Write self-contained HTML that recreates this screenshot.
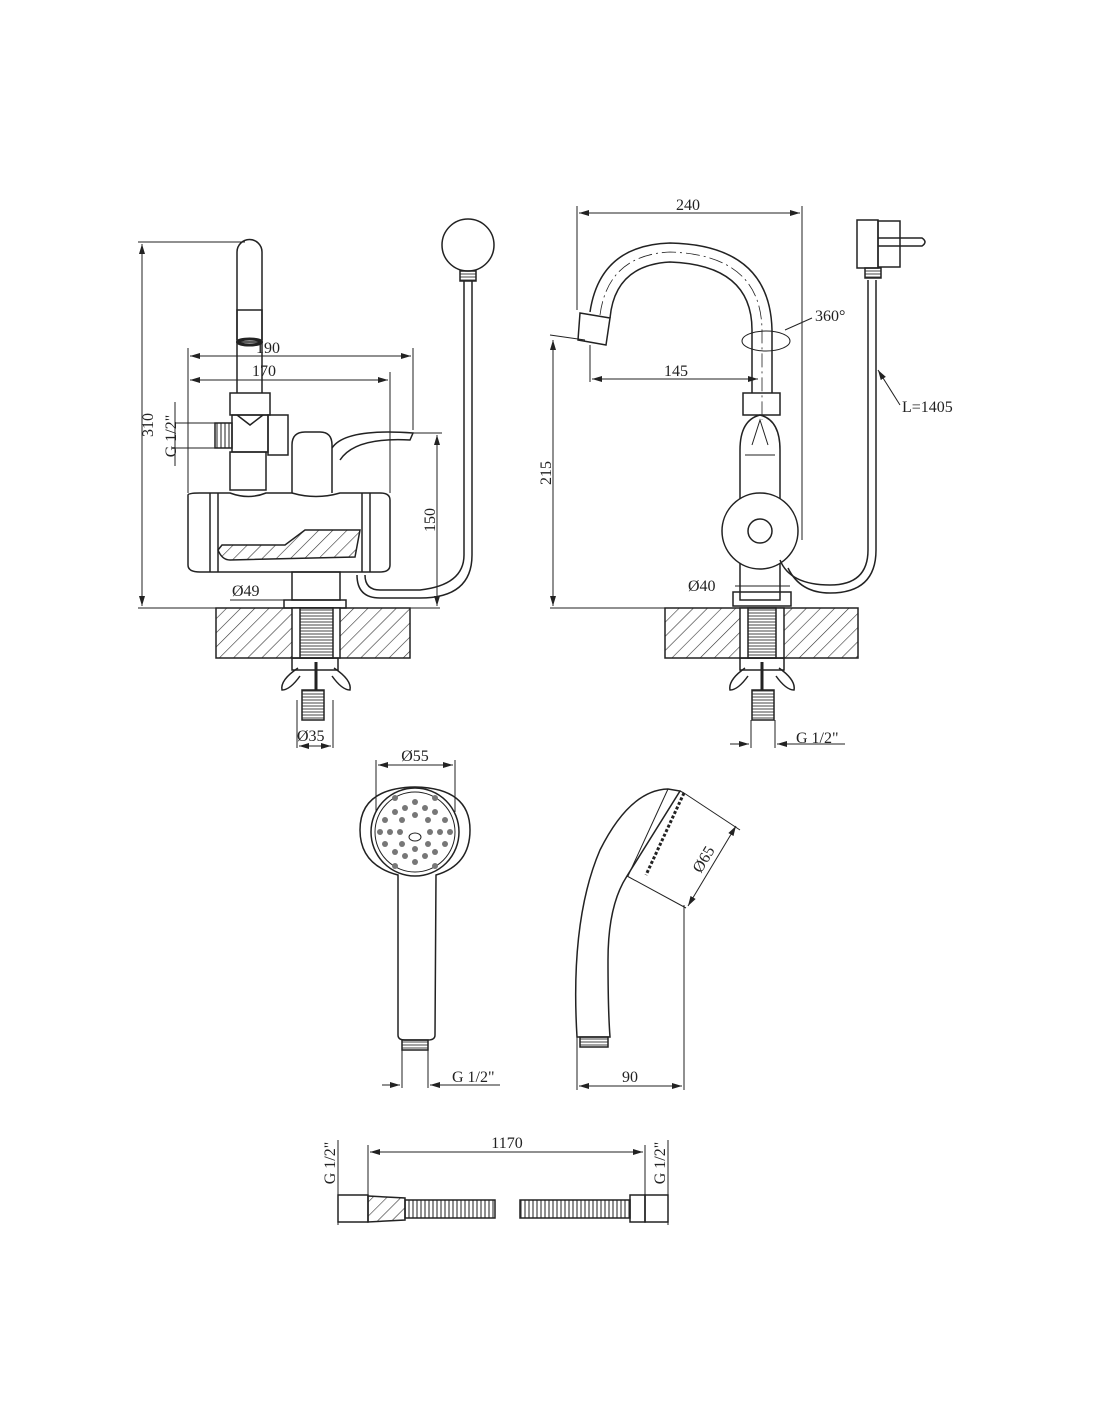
<!DOCTYPE html>
<html><head><meta charset="utf-8"><style>
html,body{margin:0;padding:0;background:#fff}
svg{display:block}
text{font-family:"Liberation Serif",serif;font-size:16px;fill:#222}
</style></head><body>
<svg width="1100" height="1422" viewBox="0 0 1100 1422" xmlns="http://www.w3.org/2000/svg">
<defs>
<pattern id="h" width="10" height="10" patternUnits="userSpaceOnUse" patternTransform="rotate(45)"><line x1="0" y1="0" x2="0" y2="10" stroke="#333" stroke-width="1.2"/></pattern>
<pattern id="t" width="4" height="3" patternUnits="userSpaceOnUse"><line x1="0" y1="1" x2="4" y2="1" stroke="#444" stroke-width="1"/></pattern>
<pattern id="tv" width="4" height="4" patternUnits="userSpaceOnUse"><line x1="1" y1="0" x2="1" y2="4" stroke="#444" stroke-width="1.2"/></pattern>
<marker id="a" markerWidth="10" markerHeight="6" refX="10" refY="3" orient="auto-start-reverse"><path d="M0,0 L10,3 L0,6 z" fill="#222"/></marker>
</defs>
<g fill="none" stroke="#222" stroke-width="1.5">
<!-- LEFT VIEW -->
<line x1="138" y1="242" x2="245" y2="242" stroke-width="1"/>
<line x1="142" y1="244" x2="142" y2="606" marker-start="url(#a)" marker-end="url(#a)" stroke-width="1"/>
<line x1="138" y1="608" x2="440" y2="608" stroke-width="1"/>
<path d="M237,340 V252 A12.5,12.5 0 0 1 262,252 V340"/>
<rect x="237" y="310" width="25" height="32"/>
<ellipse cx="249.5" cy="342" rx="12" ry="3" stroke-width="3"/>
<line x1="237" y1="342" x2="237" y2="393"/><line x1="262" y1="342" x2="262" y2="393"/>
<rect x="230" y="393" width="40" height="22"/>
<path d="M237,415 L250,425 L263,415"/>
<rect x="232" y="415" width="36" height="37"/>
<rect x="215" y="423" width="17" height="25" fill="url(#tv)"/>
<rect x="268" y="415" width="20" height="40"/>
<rect x="230" y="452" width="36" height="38"/>
<path d="M188,495 Q188,493 200,493 L230,493 Q249,500 266,493 L292,493 Q316,500 340,493 L380,493 Q390,493 390,500 V565 Q390,572 380,572 L200,572 Q188,572 188,565 Z"/>
<line x1="210" y1="493" x2="210" y2="572"/><line x1="218" y1="493" x2="218" y2="572"/>
<line x1="362" y1="493" x2="362" y2="572"/><line x1="370" y1="493" x2="370" y2="572"/>
<path d="M218,550 Q222,560 230,560 L355,557 L360,530 L305,530 L285,545 L222,545 Z" fill="url(#h)"/>
<path d="M292,493 V445 Q292,432 305,432 L320,432 Q332,432 332,445 V493"/>
<path d="M332,448 Q345,428 413,433 L410,440 Q355,437 340,460"/>
<rect x="292" y="572" width="48" height="28"/>
<rect x="284" y="600" width="62" height="8"/>
<line x1="188" y1="348" x2="188" y2="493" stroke-width="1"/>
<line x1="413" y1="348" x2="413" y2="430" stroke-width="1"/>
<line x1="390" y1="372" x2="390" y2="493" stroke-width="1"/>
<line x1="190" y1="356" x2="411" y2="356" marker-start="url(#a)" marker-end="url(#a)" stroke-width="1"/>
<line x1="190" y1="380" x2="388" y2="380" marker-start="url(#a)" marker-end="url(#a)" stroke-width="1"/>
<line x1="413" y1="433" x2="442" y2="433" stroke-width="1"/>
<line x1="437" y1="435" x2="437" y2="606" marker-start="url(#a)" marker-end="url(#a)" stroke-width="1"/>
<line x1="175" y1="402" x2="175" y2="466" stroke-width="1"/>
<line x1="175" y1="423" x2="215" y2="423" stroke-width="1"/>
<line x1="175" y1="448" x2="215" y2="448" stroke-width="1"/>
<circle cx="468" cy="245" r="26"/>
<rect x="460" y="271" width="16" height="10" fill="url(#t)"/>
<path d="M464,281 V555 Q464,585 420,590 L380,590 Q365,590 365,575"/>
<path d="M472,281 V555 Q472,598 420,598 L380,598 Q357,598 357,575"/>
<rect x="216" y="608" width="194" height="50" fill="url(#h)"/>
<rect x="292" y="608" width="48" height="50" fill="#fff"/>
<rect x="300" y="608" width="33" height="50" fill="url(#t)"/>
<rect x="292" y="658" width="46" height="12"/>
<path d="M298,668 Q280,680 282,690 Q290,690 300,676 M334,668 Q352,680 350,690 Q342,690 332,676"/>
<line x1="316" y1="662" x2="316" y2="690" stroke-width="3"/>
<rect x="302" y="690" width="22" height="30" fill="url(#t)"/>
<line x1="297" y1="700" x2="297" y2="748" stroke-width="1"/>
<line x1="333" y1="700" x2="333" y2="748" stroke-width="1"/>
<line x1="299" y1="746" x2="331" y2="746" marker-start="url(#a)" marker-end="url(#a)" stroke-width="1"/>
<line x1="230" y1="600" x2="340" y2="600" stroke-width="1"/>

<!-- RIGHT VIEW -->
<line x1="577" y1="206" x2="577" y2="310" stroke-width="1"/>
<line x1="802" y1="206" x2="802" y2="540" stroke-width="1"/>
<line x1="579" y1="213" x2="800" y2="213" marker-start="url(#a)" marker-end="url(#a)" stroke-width="1"/>
<path d="M590,312 Q600,245 670,243 Q770,245 772,330 V393"/>
<path d="M610,318 Q615,265 670,262 Q752,265 752,330 V393"/>
<path d="M600,315 Q608,255 670,252 Q761,255 762,330 V420" stroke-dasharray="14,4,2,4" stroke-width="0.8"/>
<path d="M580,313 L610,318 L606,345 L578,340 Z"/>
<line x1="550" y1="335" x2="585" y2="340" stroke-width="1"/>
<line x1="553" y1="340" x2="553" y2="606" marker-start="url(#a)" marker-end="url(#a)" stroke-width="1"/>
<line x1="550" y1="608" x2="665" y2="608" stroke-width="1"/>
<line x1="590" y1="345" x2="590" y2="382" stroke-width="1"/>
<line x1="592" y1="379" x2="758" y2="379" marker-start="url(#a)" marker-end="url(#a)" stroke-width="1"/>
<ellipse cx="766" cy="341" rx="24" ry="10" stroke-width="1"/>
<path d="M785,330 L812,318" stroke-width="1"/>
<rect x="743" y="393" width="37" height="22"/>
<path d="M740,450 Q740,420 760,415 Q780,420 780,450 V600 H740 Z"/>
<path d="M752,445 L760,420 L768,445 M745,455 H775" stroke-width="1"/>
<circle cx="760" cy="531" r="38" fill="#fff"/>
<circle cx="760" cy="531" r="12"/>
<path d="M780,560 Q790,585 830,585 Q868,585 868,550 V280"/>
<path d="M788,568 Q800,593 830,593 Q876,593 876,550 V280"/>
<rect x="857" y="220" width="21" height="48"/>
<rect x="878" y="221" width="22" height="46"/>
<path d="M878,238 H922 Q928,242 922,246 H878"/>
<rect x="865" y="268" width="16" height="10" fill="url(#t)"/>
<path d="M878,370 L900,405" stroke-width="1" marker-start="url(#a)"/>
<rect x="733" y="592" width="58" height="14"/>
<line x1="735" y1="586" x2="790" y2="586" stroke-width="1"/>
<rect x="665" y="608" width="193" height="50" fill="url(#h)"/>
<rect x="740" y="608" width="44" height="50" fill="#fff"/>
<rect x="748" y="608" width="28" height="50" fill="url(#t)"/>
<rect x="740" y="658" width="44" height="12"/>
<path d="M745,668 Q728,680 730,690 Q738,690 748,676 M779,668 Q796,680 794,690 Q786,690 776,676"/>
<line x1="762" y1="662" x2="762" y2="690" stroke-width="3"/>
<rect x="752" y="690" width="22" height="30" fill="url(#t)"/>
<line x1="751" y1="720" x2="751" y2="748" stroke-width="1"/>
<line x1="775" y1="720" x2="775" y2="748" stroke-width="1"/>
<line x1="730" y1="744" x2="749" y2="744" marker-end="url(#a)" stroke-width="1"/>
<line x1="845" y1="744" x2="777" y2="744" marker-end="url(#a)" stroke-width="1"/>

<!-- SHOWER FRONT -->
<line x1="376" y1="760" x2="376" y2="812" stroke-width="1"/>
<line x1="455" y1="760" x2="455" y2="812" stroke-width="1"/>
<line x1="378" y1="765" x2="453" y2="765" marker-start="url(#a)" marker-end="url(#a)" stroke-width="1"/>
<path d="M398,875 Q360,865 360,830 Q360,788 415,787 Q470,788 470,830 Q470,865 436,875 L435,1035 Q435,1040 428,1040 L405,1040 Q398,1040 398,1035 Z"/>
<circle cx="415" cy="832" r="44"/>
<circle cx="415" cy="832" r="40" stroke-width="1"/>
<g fill="#777" stroke="none">
<circle cx="385" cy="820" r="3"/><circle cx="395" cy="812" r="3"/><circle cx="405" cy="808" r="3"/><circle cx="425" cy="808" r="3"/><circle cx="435" cy="812" r="3"/><circle cx="445" cy="820" r="3"/>
<circle cx="380" cy="832" r="3"/><circle cx="390" cy="832" r="3"/><circle cx="400" cy="832" r="3"/><circle cx="430" cy="832" r="3"/><circle cx="440" cy="832" r="3"/><circle cx="450" cy="832" r="3"/>
<circle cx="385" cy="844" r="3"/><circle cx="395" cy="852" r="3"/><circle cx="405" cy="856" r="3"/><circle cx="425" cy="856" r="3"/><circle cx="435" cy="852" r="3"/><circle cx="445" cy="844" r="3"/>
<circle cx="415" cy="802" r="3"/><circle cx="415" cy="862" r="3"/><circle cx="402" cy="820" r="3"/><circle cx="428" cy="820" r="3"/><circle cx="402" cy="844" r="3"/><circle cx="428" cy="844" r="3"/>
<circle cx="415" cy="815" r="3"/><circle cx="415" cy="849" r="3"/><circle cx="395" cy="866" r="3"/><circle cx="435" cy="866" r="3"/><circle cx="395" cy="798" r="3"/><circle cx="435" cy="798" r="3"/>
</g>
<ellipse cx="415" cy="837" rx="6" ry="4" stroke-width="1"/>
<rect x="402" y="1040" width="26" height="10" fill="url(#t)"/>
<line x1="402" y1="1050" x2="402" y2="1088" stroke-width="1"/>
<line x1="428" y1="1050" x2="428" y2="1088" stroke-width="1"/>
<line x1="382" y1="1085" x2="400" y2="1085" marker-end="url(#a)" stroke-width="1"/>
<line x1="500" y1="1085" x2="430" y2="1085" marker-end="url(#a)" stroke-width="1"/>

<!-- SHOWER SIDE -->
<path d="M577,1037 Q570,920 600,850 Q630,790 668,789 L680,791 L627,876 Q608,905 608,960 Q608,1010 610,1037 Z"/>
<path d="M668,789 L628,876" stroke-width="1"/>
<path d="M684,793 L646,875" stroke-width="3" stroke-dasharray="3,2"/>
<path d="M680,791 L684,793 M627,876 L686,908" stroke-width="1"/>
<line x1="684" y1="793" x2="740" y2="830" stroke-width="1"/>
<line x1="736" y1="826" x2="688" y2="906" marker-start="url(#a)" marker-end="url(#a)" stroke-width="1"/>
<rect x="580" y="1037" width="28" height="10" fill="url(#t)"/>
<line x1="577" y1="1037" x2="577" y2="1090" stroke-width="1"/>
<line x1="684" y1="905" x2="684" y2="1090" stroke-width="1"/>
<line x1="579" y1="1086" x2="682" y2="1086" marker-start="url(#a)" marker-end="url(#a)" stroke-width="1"/>

<!-- HOSE -->
<line x1="368" y1="1145" x2="368" y2="1222" stroke-width="1"/>
<line x1="645" y1="1145" x2="645" y2="1222" stroke-width="1"/>
<line x1="370" y1="1152" x2="643" y2="1152" marker-start="url(#a)" marker-end="url(#a)" stroke-width="1"/>
<line x1="338" y1="1140" x2="338" y2="1225" stroke-width="1"/>
<line x1="668" y1="1140" x2="668" y2="1225" stroke-width="1"/>
<rect x="338" y="1195" width="30" height="27"/>
<path d="M368,1196 L405,1198 V1220 L368,1222 Z" fill="url(#h)"/>
<rect x="405" y="1200" width="90" height="18" fill="url(#tv)"/>
<rect x="520" y="1200" width="110" height="18" fill="url(#tv)"/>
<rect x="630" y="1195" width="15" height="27"/>
<rect x="645" y="1195" width="23" height="27"/>
</g>
<g>
<text x="268" y="353" text-anchor="middle">190</text>
<text x="264" y="376" text-anchor="middle">170</text>
<text transform="translate(153,425) rotate(-90)" text-anchor="middle">310</text>
<text transform="translate(176,436) rotate(-90)" text-anchor="middle">G 1/2"</text>
<text transform="translate(435,520) rotate(-90)" text-anchor="middle">150</text>
<text x="232" y="596">Ø49</text>
<text x="297" y="741">Ø35</text>
<text x="688" y="210" text-anchor="middle">240</text>
<text x="815" y="321">360°</text>
<text x="676" y="376" text-anchor="middle">145</text>
<text x="902" y="412" font-size="18">L=1405</text>
<text transform="translate(551,473) rotate(-90)" text-anchor="middle">215</text>
<text x="688" y="591">Ø40</text>
<text x="796" y="743">G 1/2"</text>
<text x="415" y="761" text-anchor="middle">Ø55</text>
<text transform="translate(708,862) rotate(-59)" text-anchor="middle">Ø65</text>
<text x="452" y="1082">G 1/2"</text>
<text x="630" y="1082" text-anchor="middle">90</text>
<text x="507" y="1148" text-anchor="middle">1170</text>
<text transform="translate(335,1163) rotate(-90)" text-anchor="middle">G 1/2"</text>
<text transform="translate(665,1163) rotate(-90)" text-anchor="middle">G 1/2"</text>
</g>
</svg>
</body></html>
